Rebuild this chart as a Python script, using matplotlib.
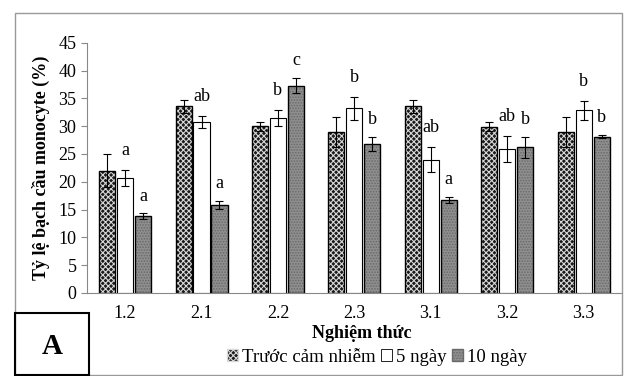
import numpy as np
import matplotlib
matplotlib.use("Agg")
import matplotlib.pyplot as plt
from matplotlib.patches import Patch, Rectangle

plt.rcParams['font.family'] = ['Liberation Serif', 'DejaVu Serif']
plt.rcParams['hatch.linewidth'] = 0.8

# data
groups = ['1.2', '2.1', '2.2', '2.3', '3.1', '3.2', '3.3']
series = ['Trước cảm nhiễm', '5 ngày', '10 ngày']
truoc = [22.0, 33.6, 30.0, 28.9, 33.6, 29.9, 28.9]
truoc_err = [3.0, 1.2, 0.8, 2.7, 1.2, 0.8, 2.7]
ngay5 = [20.7, 30.7, 31.5, 33.2, 24.0, 25.9, 32.9]
ngay5_err = [1.4, 1.1, 1.4, 2.0, 2.2, 2.3, 1.7]
ngay10 = [13.8, 15.8, 37.3, 26.8, 16.7, 26.2, 28.1]
ngay10_err = [0.5, 0.7, 1.4, 1.3, 0.5, 1.9, 0.3]
labels5 = ['a', 'ab', 'b', 'b', 'ab', 'ab', 'b']
labels10 = ['a', 'a', 'c', 'b', 'a', 'b', 'b']

x = np.arange(len(groups))
w = 0.21
step = 0.235

fig = plt.figure(figsize=(6.25, 3.76), dpi=100)
ax = fig.add_axes([0.139, 0.221, 0.856, 0.665])

ekw = dict(ecolor='black', elinewidth=0.8, capsize=3, capthick=0.8)

# bar 1: black with white checker
ax.bar(x - step, truoc, w, color='#1a1a1a', edgecolor='#d8d8d8', hatch='xxxxxx', linewidth=0)
ax.bar(x - step, truoc, w, fill=False, edgecolor='black', linewidth=1.0,
       yerr=truoc_err, error_kw=ekw)
# bar 2: white
ax.bar(x, ngay5, w, color='white', edgecolor='black', linewidth=0.8,
       yerr=ngay5_err, error_kw=ekw)
# bar 3: grey fine dots
ax.bar(x + step, ngay10, w, color='#8f8f8f', edgecolor='#6a6a6a', hatch='......', linewidth=0)
ax.bar(x + step, ngay10, w, fill=False, edgecolor='black', linewidth=1.0,
       yerr=ngay10_err, error_kw=ekw)

# significance letters
for i in range(len(groups)):
    ax.text(x[i], ngay5[i] + ngay5_err[i] + 2.0, labels5[i], ha='center', va='bottom', fontsize=13)
    ax.text(x[i] + step, ngay10[i] + ngay10_err[i] + 1.6, labels10[i], ha='center', va='bottom', fontsize=13)

ax.set_xlim(-0.5, len(groups) - 0.5)
ax.set_ylim(0, 45)
ax.set_yticks(range(0, 46, 5))
ax.set_xticks(x)
ax.set_xticklabels(groups)
ax.tick_params(axis='x', length=0, labelsize=13, pad=9)
ax.tick_params(axis='y', length=4, color='#888888', labelsize=13)
for s in ['top', 'right']:
    ax.spines[s].set_visible(False)
ax.spines['left'].set_color('#888888')
ax.spines['bottom'].set_color('#888888')

ax.set_ylabel('Tỷ lệ bạch cầu monocyte (%)', fontsize=13, fontweight='bold', labelpad=6)
ax.set_xlabel('Nghiệm thức', fontsize=13, fontweight='bold', labelpad=0)
ax.xaxis.set_label_coords(0.514, -0.128)

handles = [
    Patch(facecolor='#1a1a1a', edgecolor='#d8d8d8', hatch='xxxxxx'),
    Patch(facecolor='white', edgecolor='black', linewidth=0.6),
    Patch(facecolor='#8f8f8f', edgecolor='#6a6a6a', hatch='......'),
]
fig.legend(handles, series, loc='center', bbox_to_anchor=(0.603, 0.05), ncol=3,
           frameon=False, fontsize=13.5, handlelength=0.6, handleheight=0.6,
           handletextpad=0.2, columnspacing=0.3)

# outer frame
fig.patches.append(Rectangle((15 / 625, 1 / 376), 607 / 625, 362 / 376,
                             transform=fig.transFigure, fill=False,
                             edgecolor='#999999', linewidth=1.0))
# panel box "A"
fig.patches.append(Rectangle((15 / 625, 1 / 376), 74 / 625, 62 / 376,
                             transform=fig.transFigure, fill=False,
                             edgecolor='black', linewidth=1.5, zorder=5))
fig.text(52 / 625, 30 / 376, 'A', ha='center', va='center', fontsize=21, fontweight='bold')

fig.savefig('out.png', dpi=100)
